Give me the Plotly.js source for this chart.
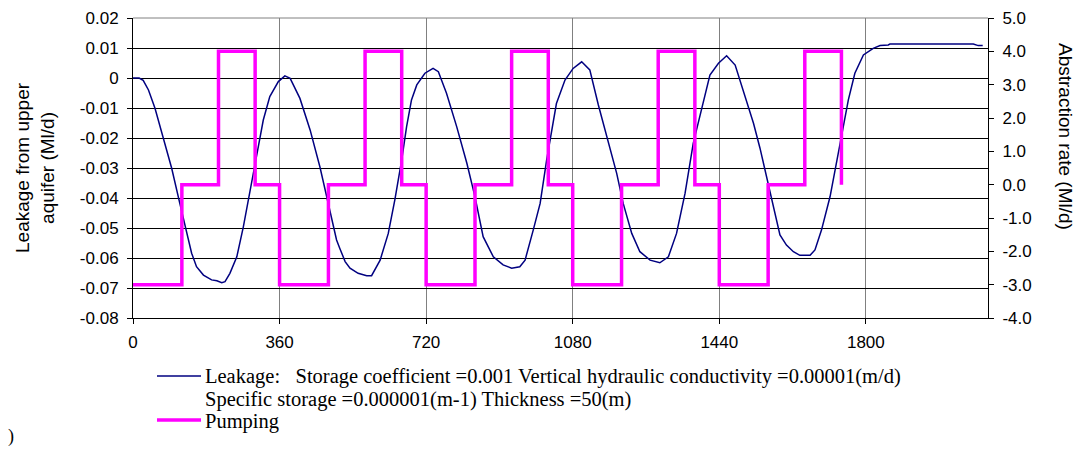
<!DOCTYPE html>
<html>
<head>
<meta charset="utf-8">
<script src="https://cdn.plot.ly/plotly-3.0.1.min.js"></script>
<style>
html,body{margin:0;padding:0;background:#fff;}
#chart{width:1083px;height:450px;}
</style>
</head>
<body>
<div id="chart"></div>
<script>
// ---- data ----
var leakDays = [0,15,25,38,54,74,95,115,128,144,156,173,193,206,218,226,238,255,271,287,304,320,336,357,373,386,
  410,435,459,484,500,508,521,533,553,574,586,607,627,643,660,672,684,697,717,737,750,
  770,795,820,840,860,885,909,930,950,963,983,1000,1016,1024,1040,1061,1081,1102,1122,
  1143,1167,1188,1204,1225,1245,1270,1294,1315,1335,1356,1376,1397,1417,1438,1458,1479,
  1499,1524,1540,1556,1573,1589,1605,1622,1638,1663,1675,1691,1712,1736,1757,1773,1794,
  1818,1835,1855,1859,2064,2076,2087];
var leakValues = [0,0,-0.0008,-0.004,-0.0101,-0.0201,-0.0301,-0.0418,-0.0496,-0.0584,-0.0629,-0.0657,-0.0673,-0.0676,-0.0682,-0.0679,-0.0651,-0.0596,-0.0496,-0.0384,-0.0262,-0.014,-0.0062,-0.0012,0.0007,-0.0001,
  -0.0068,-0.0173,-0.0296,-0.044,-0.054,-0.0568,-0.0612,-0.0634,-0.0651,-0.0659,-0.0659,-0.0607,-0.0518,-0.0407,-0.0273,-0.0162,-0.0073,-0.0023,0.0016,0.0032,0.0021,
  -0.0051,-0.0162,-0.0284,-0.0396,-0.0529,-0.0596,-0.0623,-0.0634,-0.0629,-0.0607,-0.0507,-0.0418,-0.0273,-0.0207,-0.0085,-0.0007,0.0032,0.0054,0.0027,
  -0.009,-0.0207,-0.0318,-0.0418,-0.0518,-0.0579,-0.0607,-0.0616,-0.0596,-0.0518,-0.0384,-0.0218,-0.0096,0.001,0.0049,0.0074,0.0043,
  -0.004,-0.0151,-0.0234,-0.0329,-0.0429,-0.0523,-0.0557,-0.0579,-0.0591,-0.0591,-0.0573,-0.0507,-0.0396,-0.0218,-0.0073,0.0016,0.0077,
  0.0099,0.0108,0.011,0.0113,0.0113,0.0108,0.0108];

var pumpDays  = [0,120,210,300,360,480,570,660,720,840,930,1020,1080,1200,1290,1380,1440,1560,1650,1740];
var pumpRates = [-3,0,4,0,-3,0,4,0,-3,0,4,0,-3,0,4,0,-3,0,4,0];

var xTickVals = [0,360,720,1080,1440,1800];
var xTickText = ['0','360','720','1080','1440','1800'];
var leftTickVals = [0.02,0.01,0,-0.01,-0.02,-0.03,-0.04,-0.05,-0.06,-0.07,-0.08];
var leftTickText = ['0.02','0.01','0','-0.01','-0.02','-0.03','-0.04','-0.05','-0.06','-0.07','-0.08'];
var rightTickVals = [5,4,3,2,1,0,-1,-2,-3,-4];
var rightTickText = ['5.0','4.0','3.0','2.0','1.0','0.0','-1.0','-2.0','-3.0','-4.0'];

var leakName = 'Leakage:\u00a0\u00a0\u00a0Storage coefficient =0.001 Vertical hydraulic conductivity =0.00001(m/d)';
var leakName2 = 'Specific storage =0.000001(m-1) Thickness =50(m)';
var pumpName = 'Pumping';
var leftTitle = 'Leakage from upper<br>aquifer (Ml/d)';
var rightTitle = 'Abstraction rate (Ml/d)';

// ---- style ----
var LEAK_COLOR = '#000080';
var PUMP_COLOR = '#FF00FF';
var SANS = 'Liberation Sans, Arial, sans-serif';
var SERIF = 'Liberation Serif, Times New Roman, serif';

var W = 1083, H = 450, ML = 133, MR = 95, MT = 18, MB = 132;
var PW = W - ML - MR, PH = H - MT - MB;
function px(x){ return (x - ML) / PW; }
function py(y){ return (H - MB - y) / PH; }

var traces = [
  {x: leakDays, y: leakValues, type: 'scatter', mode: 'lines', name: 'Leakage',
   line: {color: LEAK_COLOR, width: 1.5}, yaxis: 'y', showlegend: false, hoverinfo: 'skip'},
  {x: pumpDays, y: pumpRates, type: 'scatter', mode: 'lines', name: pumpName,
   line: {color: PUMP_COLOR, width: 3.5, shape: 'hv'}, yaxis: 'y2', showlegend: false, hoverinfo: 'skip'}
];

var layout = {
  width: W, height: H,
  margin: {l: ML, r: MR, t: MT, b: MB, pad: 0},
  paper_bgcolor: '#ffffff', plot_bgcolor: '#ffffff',
  font: {family: SANS, size: 17, color: '#000'},
  showlegend: false,
  xaxis: {
    range: [0, 2100], tickvals: xTickVals, ticktext: xTickText,
    showgrid: true, gridcolor: '#808080', gridwidth: 1,
    showline: true, linecolor: '#000', linewidth: 1,
    ticks: 'outside', ticklen: 5, tickcolor: '#000', zeroline: false,
    ticklabelstandoff: 4,
    tickfont: {family: SANS, size: 17}
  },
  yaxis: {
    range: [-0.08, 0.02], tickvals: leftTickVals, ticktext: leftTickText,
    showgrid: true, gridcolor: '#000', gridwidth: 1,
    showline: true, linecolor: '#000', linewidth: 1,
    ticks: 'outside', ticklen: 5, tickcolor: '#000', zeroline: false,
    ticklabelstandoff: 5,
    tickfont: {family: SANS, size: 17}
  },
  yaxis2: {
    range: [-4, 5], tickvals: rightTickVals, ticktext: rightTickText,
    overlaying: 'y', side: 'right', showgrid: false,
    showline: true, linecolor: '#000', linewidth: 1,
    ticks: 'outside', ticklen: 5, tickcolor: '#000', zeroline: false,
    ticklabelstandoff: 5,
    tickfont: {family: SANS, size: 17}
  },
  shapes: [
    {type: 'line', xref: 'paper', yref: 'paper', x0: 0, x1: 1, y0: 1, y1: 1, line: {color: '#808080', width: 1}},
    {type: 'line', xref: 'paper', yref: 'paper', x0: px(157), x1: px(201), y0: py(376), y1: py(376), line: {color: LEAK_COLOR, width: 1.5}},
    {type: 'line', xref: 'paper', yref: 'paper', x0: px(157), x1: px(201), y0: py(420), y1: py(420), line: {color: PUMP_COLOR, width: 3.5}}
  ],
  annotations: [
    {text: leftTitle, xref: 'paper', yref: 'paper', x: px(35), y: py(168), textangle: -90,
     showarrow: false, xanchor: 'center', yanchor: 'middle', font: {family: SANS, size: 19}},
    {text: rightTitle, xref: 'paper', yref: 'paper', x: px(1066), y: py(136), textangle: 90,
     showarrow: false, xanchor: 'center', yanchor: 'middle', font: {family: SANS, size: 19}},
    {text: leakName, xref: 'paper', yref: 'paper', x: px(203), y: py(376), showarrow: false,
     xanchor: 'left', yanchor: 'middle', font: {family: SERIF, size: 20.5}},
    {text: leakName2, xref: 'paper', yref: 'paper', x: px(203), y: py(399), showarrow: false,
     xanchor: 'left', yanchor: 'middle', font: {family: SERIF, size: 20.5}},
    {text: pumpName, xref: 'paper', yref: 'paper', x: px(203), y: py(421), showarrow: false,
     xanchor: 'left', yanchor: 'middle', font: {family: SERIF, size: 20.5}},
    {text: ')', xref: 'paper', yref: 'paper', x: px(11), y: py(436), showarrow: false,
     xanchor: 'center', yanchor: 'middle', font: {family: SERIF, size: 18}}
  ]
};

Plotly.newPlot('chart', traces, layout, {staticPlot: true, displayModeBar: false});
</script>
</body>
</html>
